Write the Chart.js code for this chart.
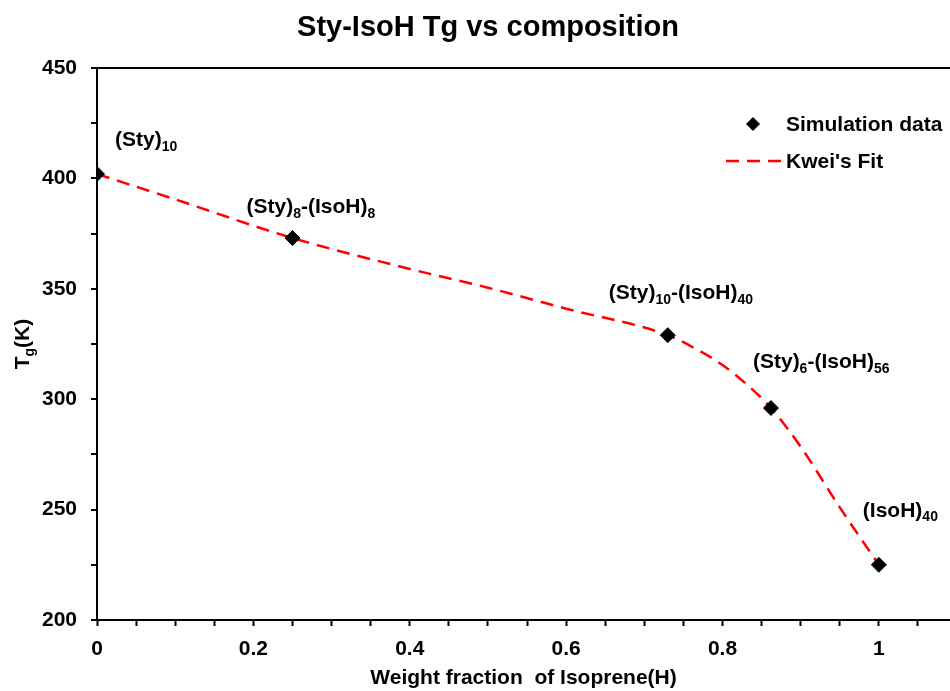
<!DOCTYPE html>
<html>
<head>
<meta charset="utf-8">
<title>Sty-IsoH Tg vs composition</title>
<script src="https://cdn.jsdelivr.net/npm/chart.js@4.4.1/dist/chart.umd.min.js"></script>
<style>
  html, body { margin: 0; padding: 0; background: #fff; }
  #wrap { width: 950px; height: 691px; position: relative; }
</style>
</head>
<body>
<div id="wrap"><canvas id="tgChart"></canvas></div>
<script>
// Simulated glass transition temperatures
const simX = [0, 0.25, 0.73, 0.862, 1.0];
const simTg = [402, 373, 329, 296, 225];
// point labels, _{..} marks a subscript
const simNames = ['(Sty)_{10}', '(Sty)_{8}-(IsoH)_{8}', '(Sty)_{10}-(IsoH)_{40}', '(Sty)_{6}-(IsoH)_{56}', '(IsoH)_{40}'];

// Kwei's fit curve
const fitX = [0, 0.1, 0.25, 0.4, 0.5, 0.6, 0.73, 0.77, 0.8, 0.83, 0.862, 0.9, 0.95, 1.0];
const fitTg = [402, 390.5, 373, 359, 350.5, 341, 329, 322, 315.5, 307, 296, 278.5, 251, 225];

// axis ticks
const xMajor = [0, 0.2, 0.4, 0.6, 0.8, 1];
const yMajor = [200, 250, 300, 350, 400, 450];

const FONT = '"Liberation Sans", Arial, sans-serif';

// label offsets from their point, in pixels (left edge, baseline)
const labelOffsets = [[18, -28], [-46, -25], [-59, -36], [-18, -40], [-16, -48]];

function drawRich(ctx, str, x, y, size, subSize) {
  const parts = str.split(/(_\{[^}]*\})/).filter(s => s.length);
  ctx.textBaseline = 'alphabetic';
  ctx.textAlign = 'left';
  let cx = x;
  parts.forEach(p => {
    if (p.startsWith('_{')) {
      const t = p.slice(2, -1);
      ctx.font = 'bold ' + subSize + 'px ' + FONT;
      ctx.fillText(t, cx, y + size * 0.22);
      cx += ctx.measureText(t).width;
    } else {
      ctx.font = 'bold ' + size + 'px ' + FONT;
      ctx.fillText(p, cx, y);
      cx += ctx.measureText(p).width;
    }
  });
  return cx - x;
}

function richWidth(ctx, str, size, subSize) {
  const parts = str.split(/(_\{[^}]*\})/).filter(s => s.length);
  let w = 0;
  parts.forEach(p => {
    if (p.startsWith('_{')) {
      ctx.font = 'bold ' + subSize + 'px ' + FONT;
      w += ctx.measureText(p.slice(2, -1)).width;
    } else {
      ctx.font = 'bold ' + size + 'px ' + FONT;
      w += ctx.measureText(p).width;
    }
  });
  return w;
}

const isMajor = (v, list) => list.some(m => Math.abs(m - v) < 1e-6);

// title, y-axis title, point labels and legend
const overlay = {
  id: 'overlay',
  afterDraw(chart) {
    const { ctx, chartArea, scales } = chart;
    ctx.save();
    ctx.fillStyle = '#000';

    // title
    ctx.font = 'bold 29px ' + FONT;
    ctx.textAlign = 'center';
    ctx.textBaseline = 'middle';
    ctx.fillText('Sty-IsoH Tg vs composition', 488, 28);

    // y-axis title with subscript
    ctx.save();
    const yt = 'T_{g}(K)';
    const w = richWidth(ctx, yt, 21, 14);
    ctx.translate(29, (chartArea.top + chartArea.bottom) / 2);
    ctx.rotate(-Math.PI / 2);
    drawRich(ctx, yt, -w / 2, 0, 21, 14);
    ctx.restore();

    // point labels
    simNames.forEach((name, i) => {
      const px = scales.x.getPixelForValue(simX[i]);
      const py = scales.y.getPixelForValue(simTg[i]);
      drawRich(ctx, name, px + labelOffsets[i][0], py + labelOffsets[i][1], 21, 14);
    });

    // legend
    const lx = chartArea.left + 629;
    const ly = chartArea.top + 56;
    const sim = chart.data.datasets[0];
    const fit = chart.data.datasets[1];
    ctx.fillStyle = sim.backgroundColor;
    ctx.strokeStyle = sim.borderColor;
    Chart.helpers.drawPoint(ctx, { pointStyle: 'rectRot', radius: 6.5, borderWidth: 1 }, lx + 27, ly);
    ctx.strokeStyle = fit.borderColor;
    ctx.lineWidth = fit.borderWidth;
    ctx.setLineDash(fit.borderDash);
    ctx.beginPath();
    ctx.moveTo(lx, ly + 37);
    ctx.lineTo(lx + 55, ly + 37);
    ctx.stroke();
    ctx.setLineDash([]);
    ctx.fillStyle = '#000';
    ctx.font = 'bold 21px ' + FONT;
    ctx.textAlign = 'left';
    ctx.textBaseline = 'middle';
    ctx.fillText(sim.label, lx + 60, ly + 1);
    ctx.fillText(fit.label, lx + 60, ly + 38);
    ctx.restore();
  }
};

new Chart(document.getElementById('tgChart'), {
  type: 'scatter',
  data: {
    datasets: [
      {
        label: 'Simulation data',
        data: simX.map((x, i) => ({ x: x, y: simTg[i] })),
        pointStyle: 'rectRot',
        pointRadius: 7.5,
        pointBackgroundColor: '#000',
        pointBorderColor: '#000',
        backgroundColor: '#000',
        borderColor: '#000',
        showLine: false,
        order: 0
      },
      {
        label: "Kwei's Fit",
        data: fitX.map((x, i) => ({ x: x, y: fitTg[i] })),
        showLine: true,
        borderColor: '#ff0000',
        borderWidth: 2.5,
        borderDash: [13, 8],
        pointRadius: 0,
        cubicInterpolationMode: 'monotone',
        order: 1
      }
    ]
  },
  options: {
    responsive: true,
    maintainAspectRatio: false,
    animation: false,
    // no extra room for point overflow: the plot runs to the canvas edge
    layout: { autoPadding: false, padding: { top: 68, left: 0, right: 0, bottom: 0 } },
    plugins: {
      legend: { display: false },
      title: { display: false },
      tooltip: { enabled: false }
    },
    scales: {
      x: {
        type: 'linear',
        min: 0,
        max: 1.091,
        afterFit: s => { s.height = 71; s.paddingLeft = 0; s.paddingRight = 0; },
        border: { color: '#000', width: 2 },
        grid: { drawOnChartArea: false, tickColor: '#000', tickLength: 6, tickWidth: 2 },
        ticks: {
          stepSize: 0.05,
          includeBounds: false,
          autoSkip: false,
          maxRotation: 0,
          padding: 11,
          color: '#000',
          font: { family: FONT, size: 21, weight: 'bold' },
          callback: v => isMajor(v, xMajor) ? String(Math.round(v * 10) / 10) : ''
        },
        title: {
          display: true,
          text: 'Weight fraction  of Isoprene(H)',
          color: '#000',
          font: { family: FONT, size: 21, weight: 'bold' },
          padding: { top: 0, bottom: 0 }
        }
      },
      y: {
        min: 200,
        max: 450,
        afterFit: s => { s.width = 97; },
        border: { color: '#000', width: 2 },
        grid: {
          color: c => c.tick && c.tick.value === 450 ? '#000' : 'rgba(0,0,0,0)',
          lineWidth: 2,
          tickColor: '#000',
          tickLength: 6,
          tickWidth: 2
        },
        ticks: {
          stepSize: 25,
          autoSkip: false,
          padding: 14,
          color: '#000',
          font: { family: FONT, size: 21, weight: 'bold' },
          callback: v => isMajor(v, yMajor) ? String(v) : ''
        }
      }
    }
  },
  plugins: [overlay]
});
</script>
</body>
</html>
